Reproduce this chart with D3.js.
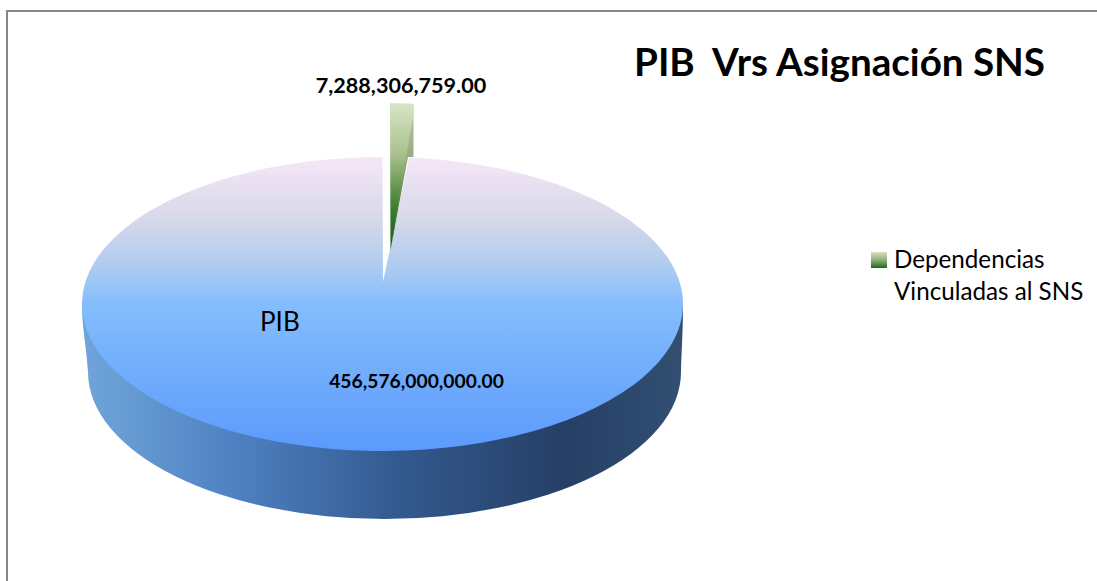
<!DOCTYPE html>
<html><head><meta charset="utf-8">
<script src="https://cdn.jsdelivr.net/npm/d3@7/dist/d3.min.js"></script>
<style>html,body{margin:0;padding:0;background:#fff}svg{display:block}text{font-family:Lato,"Open Sans",sans-serif;fill:#000}</style>
</head><body><svg id="c" width="1097" height="581"></svg>
<script>
const categories = ["Dependencias Vinculadas al SNS", "PIB"];
const values = [7288306759, 456576000000];
const valueLabels = ["7,288,306,759.00", "456,576,000,000.00"];
const titleText = "PIB  Vrs Asignación SNS";
const legendLines = ["Dependencias", "Vinculadas al SNS"];

const svg = d3.select("#c");
const defs = svg.append("defs");
function grad(id, stops, horiz){
  const g = defs.append("linearGradient").attr("id", id).attr("gradientUnits","userSpaceOnUse");
  g.attr("x1",horiz?horiz[0]:0).attr("x2",horiz?horiz[1]:0);
  return (y1,y2)=>{ if(!horiz) g.attr("y1",y1).attr("y2",y2); else g.attr("y1",0).attr("y2",0);
    stops.forEach(s=>g.append("stop").attr("offset",s[0]).attr("stop-color",s[1])); };
}
grad("top",[[0,"#f6e6f7"],[0.2,"#d9d9ea"],[0.36,"#b2cdee"],[0.5,"#84bdfd"],[1,"#5b9afc"]])(157,451);
grad("side",[[0,"#6fa5da"],[0.25,"#4f81c2"],[0.52,"#335a90"],[0.8,"#263f66"],[1,"#324f72"]],[85,683])();
grad("wedgeTop",[[0,"#d8e5c8"],[0.35,"#a9c08c"],[0.7,"#3f7f30"],[1,"#0f5a10"]])(103,250);
grad("wedgeSide",[[0,"#bccaa9"],[0.5,"#8fa578"],[1,"#2f6f28"]])(103,235);
grad("legendG",[[0,"#d3e2c3"],[0.5,"#8fb07a"],[1,"#1c6a1a"]])(252,268);

// frame: left and top rules only
svg.append("path").attr("d","M7 581V11H1097").attr("fill","none").attr("stroke","#868686").attr("stroke-width",2);

// pie geometry
const arcs = d3.pie().sort(null).value(d=>d)(values);
const rx = d3.scaleLinear().domain([0,1]).range([0,300.5]);
const ry = d3.scaleLinear().domain([0,1]).range([0,147]);
const cx = 382.5, cy = 304, ax = 383, ay = 282;
const pt = (a,cxx=cx,cyy=cy,rxx=rx(1),ryy=ry(1)) => [cxx+rxx*Math.sin(a), cyy-ryy*Math.cos(a)];

// side wall
const bcx = 384.5, bcy = 372, brx = 296.5;
svg.append("path")
 .attr("d",`M${cx-rx(1)} ${cy}C${cx-rx(1)} ${cy+25} ${bcx-brx-2} ${bcy-30} ${bcx-brx} ${bcy}A${brx} ${ry(1)} 0 0 0 ${bcx+brx} ${bcy}C${bcx+brx+1} ${bcy-30} ${cx+rx(1)} ${cy+25} ${cx+rx(1)} ${cy}Z`)
 .attr("fill","url(#side)");

// main slice (PIB)
const s = arcs[1];
const p0 = pt(s.startAngle), p1 = pt(s.endAngle);
const cut = cx + (p0[0]-cx)*0.9;
svg.append("path")
 .attr("d",`M${ax} ${ay}L${cut} ${p0[1]}L${p0[0]} ${p0[1]}A${rx(1)} ${ry(1)} 0 1 1 ${p1[0]} ${p1[1]}Z`)
 .attr("fill","url(#top)");

// exploded slice: side then top
const w = arcs[0];
const wdy = -54, wdx = 7.5;
const wa = [ax+wdx, 250];
const w0 = pt(w.startAngle,cx+wdx,cy+wdy), w1 = pt(w.endAngle,cx+wdx,cy+wdy);
const wRight = Math.min(w1[0], 413.5);
svg.append("path")
 .attr("d",`M${wa[0]} ${wa[1]}L${wRight} ${w1[1]}V157H408Z`)
 .attr("fill","url(#wedgeSide)");
svg.append("path")
 .attr("d",`M${wa[0]} ${wa[1]}L${w0[0]} ${w0[1]}L${wRight} ${w1[1]}V${w1[1]+10}Z`)
 .attr("fill","url(#wedgeTop)");

// texts
svg.append("text").attr("x",634).attr("y",76).attr("font-size",38.6).attr("font-weight",700).style("white-space","pre").text(titleText);
svg.append("text").attr("x",401).attr("y",93).attr("text-anchor","middle").attr("font-size",21.6).attr("font-weight",700).text(valueLabels[0]);
svg.append("text").attr("x",416.5).attr("y",388).attr("text-anchor","middle").attr("font-size",19.3).attr("font-weight",700).text(valueLabels[1]);
svg.append("text").attr("x",260).attr("y",331).attr("font-size",26).text(categories[1]);

// legend
svg.append("rect").attr("x",871).attr("y",252).attr("width",16).attr("height",16).attr("fill","url(#legendG)");
svg.selectAll(".lg").data(legendLines).join("text").attr("class","lg").attr("x",894).attr("y",(d,i)=>268+i*32).attr("font-size",24.2).text(d=>d);
</script></body></html>
